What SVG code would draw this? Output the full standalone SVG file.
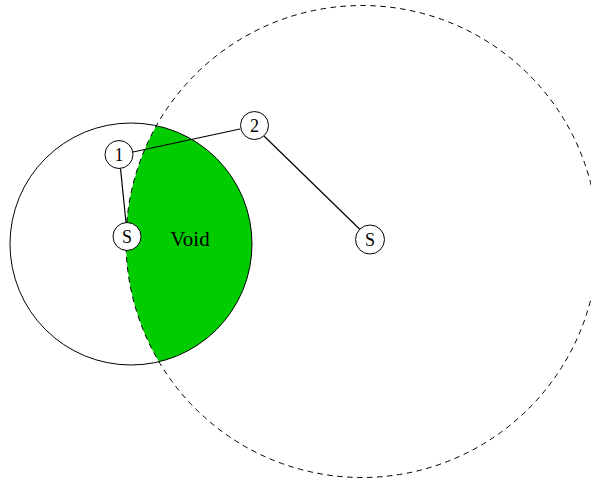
<svg xmlns="http://www.w3.org/2000/svg" width="591" height="480" viewBox="0 0 591 480">
<style>
.ring{fill:none;stroke:#000;stroke-width:1}
.dash{fill:none;stroke:#000;stroke-width:1;stroke-dasharray:5.5 4.5}
.node{fill:#fff;stroke:#000;stroke-width:1}
.lbl{font-family:"Liberation Serif","Times New Roman",serif;font-size:18px;text-anchor:middle;fill:#000}
.edge{stroke:#000;stroke-width:1.2;fill:none}
</style>
<rect width="591" height="480" fill="#fff"/>
<g id="void-region">
<path d="M156.4,125.7 A121,121 0 0 1 158.9,361.7 A236,236 0 0 1 156.4,125.7 Z" fill="#00CC00" stroke="none"/>
<circle class="ring" cx="131" cy="244" r="121"/>
<circle class="dash" cx="362" cy="241.5" r="236"/>
<text x="190" y="246" font-family="Liberation Serif, Times New Roman, serif" font-size="21" text-anchor="middle">Void</text>
</g>
<g id="connectors">
<line class="edge" x1="120.5" y1="168.5" x2="126" y2="222.5"/>
<line class="edge" x1="133" y1="152" x2="240" y2="129"/>
<line class="edge" x1="264" y1="136" x2="360" y2="229.5"/>
</g>
<g id="node1"><circle class="node" cx="119" cy="154.5" r="14"/><text class="lbl" x="119" y="161">1</text></g>
<g id="node2"><circle class="node" cx="254.5" cy="125.5" r="14"/><text class="lbl" x="254.5" y="132">2</text></g>
<g id="nodeS1"><circle class="node" cx="127" cy="236.5" r="14"/><text class="lbl" x="127" y="243">S</text></g>
<g id="nodeS2"><circle class="node" cx="370" cy="239.5" r="14.5"/><text class="lbl" x="370" y="246">S</text></g>
</svg>
